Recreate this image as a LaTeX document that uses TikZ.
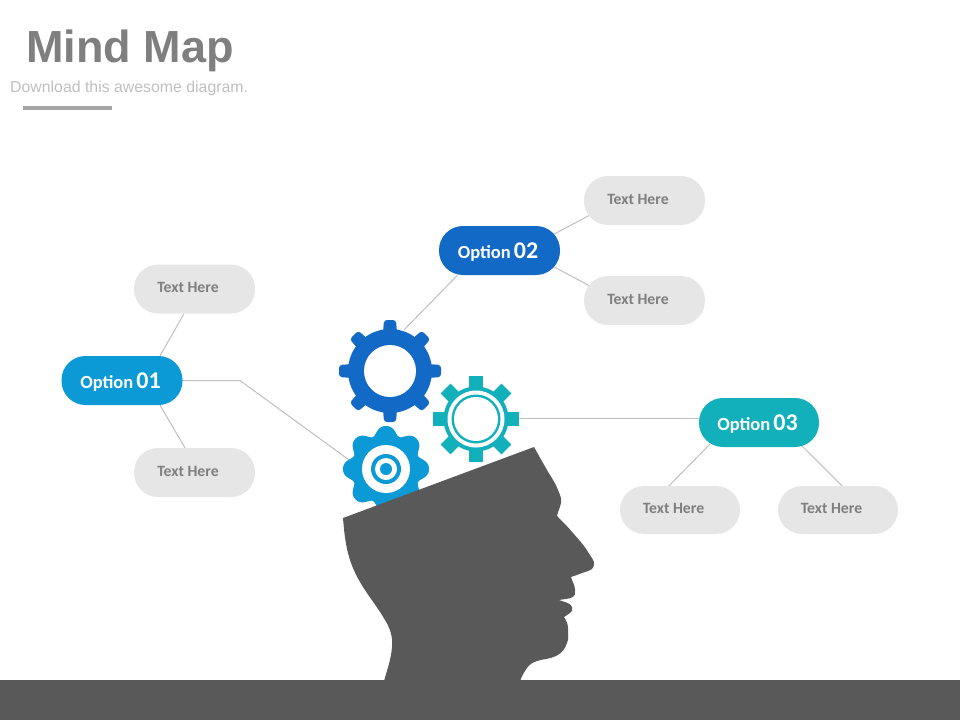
\documentclass[tikz,border=0pt]{standalone}
\usepackage{fontspec}
\setmainfont{Liberation Sans}
\newfontfamily\labelfont{Carlito}
\usetikzlibrary{backgrounds}
\definecolor{optone}{HTML}{0C9AD6}
\definecolor{opttwo}{HTML}{126AC6}
\definecolor{optthree}{HTML}{12B0BB}
\definecolor{pillgrey}{HTML}{E6E6E6}
\definecolor{txtgrey}{HTML}{7F7F7F}
\definecolor{headgrey}{HTML}{595959}
\definecolor{linegrey}{HTML}{BFBFBF}
\tikzset{
  pill/.style={rectangle,rounded corners=24pt,minimum width=121pt,minimum height=49pt,inner sep=0pt,
    font=\labelfont\bfseries},
  textpill/.style={pill,fill=pillgrey,text=txtgrey,font=\labelfont\bfseries\fontsize{15.7}{18}\selectfont},
  optionpill/.style={pill,text=white},
  conn/.style={draw=linegrey,line width=1pt},
  gearcore/.style={circle,inner sep=0pt,minimum size=#1,fill=none,draw=none}
}
\newcommand{\optlabel}[1]{\raisebox{-7.6pt}[0pt][0pt]{\fontsize{18.5}{22}\selectfont Option\,\fontsize{24}{26}\selectfont #1}\kern3pt}
\newcommand{\txtlabel}{\raisebox{-3.6pt}[0pt][0pt]{Text Here}\kern13pt}
\begin{document}
\begin{tikzpicture}[x=1pt,y=-1pt]
\useasboundingbox (0,0) rectangle (960,720);

% title
\node[anchor=base west,inner sep=0pt,text=txtgrey,font=\bfseries\fontsize{45}{50}\selectfont] (title) at (26,62) {Mind Map};
\node[anchor=base west,inner sep=0pt,text=linegrey,font=\fontsize{15.85}{19}\selectfont] (subtitle) at (10,92) {Download this awesome diagram.};
\fill[color=black!35] (23,106) rectangle (112,110);

% bottom band
\fill[headgrey] (0,680) rectangle (960,720);

% pills
\node[optionpill,fill=optone] (opta) at (122,380.5) {\optlabel{01}};
\node[optionpill,fill=opttwo] (optb) at (499.5,250.5) {\optlabel{02}};
\node[optionpill,fill=optthree,minimum width=120pt] (optc) at (759,422.5) {\optlabel{03}};
\node[textpill] (ta) at (194.5,289) {\txtlabel};
\node[textpill] (tb) at (194.5,472.5) {\txtlabel};
\node[textpill] (tc) at (644.5,200.5) {\txtlabel};
\node[textpill] (td) at (644.5,300.5) {\txtlabel};
\node[textpill,minimum width=120pt,minimum height=48pt] (te) at (680,510) {\txtlabel};
\node[textpill,minimum width=120pt,minimum height=48pt] (tf) at (838,510) {\txtlabel};

% gear anchors
\node[gearcore=102pt] (gearb) at (390,371) {};
\node[gearcore=86pt] (gearc) at (476,419) {};
\node[gearcore=86pt] (geara) at (386,469) {};
\coordinate (kink) at (240,380.5);

% connectors
\begin{pgfonlayer}{background}
\draw[conn] ([xshift=38pt]opta.north) -- ([xshift=-10.5pt]ta.south);
\draw[conn] ([xshift=38pt]opta.south) -- ([xshift=-9.5pt]tb.north);
\draw[conn] (opta.east) -- (kink) -- ([xshift=-30pt,yshift=4pt]geara.center);
\draw[conn] ([xshift=-42pt]optb.south) -- ([xshift=14pt,yshift=41pt]gearb.center);
\draw[conn] ([xshift=50pt,yshift=14pt]optb.center) -- ([xshift=-54.5pt,yshift=-14.5pt]tc.center);
\draw[conn] ([xshift=50pt,yshift=-14pt]optb.center) -- ([xshift=-54.5pt,yshift=14.5pt]td.center);
\draw[conn] (gearc.center) ++(40,-1) coordinate (gc) (gc) -- ([yshift=4.5pt]optc.west);
\draw[conn] ([xshift=-49pt,yshift=-21.5pt]optc.center) -- ([xshift=-11pt]te.north);
\draw[conn] ([xshift=41pt,yshift=-21.5pt]optc.center) -- ([xshift=4pt]tf.north);
\end{pgfonlayer}

% dark blue gear
\begin{scope}[shift={(gearb.center)}]
  \foreach \a in {0,45,...,315}
    \fill[opttwo,rotate=\a,rounded corners=3pt] (-7,-38) -- (-6,-51) -- (6,-51) -- (7,-38) -- cycle;
  \fill[opttwo] (0,0) circle (42);
  \fill[white] (0,0) circle (26);
\end{scope}

% teal gear
\begin{scope}[shift={(gearc.center)}]
  \foreach \a in {0,45,...,315}
    \fill[optthree,rotate=\a] (-7,-30) rectangle (7,-43);
  \fill[optthree] (0,0) circle (32.5);
  \fill[white] (0,0) circle (28.5);
  \fill[optthree] (0,0) circle (24.5);
  \fill[white] (0,0) circle (22);
\end{scope}

% light blue gear
\begin{scope}[shift={(geara.center)}]
  \fill[optone] plot[domain=0:360,samples=241] (\x:{39.4+4.2*cos(8*\x)-0.6*cos(16*\x)}) -- cycle;
  \fill[white] (0,0) circle (24);
  \fill[optone] (0,0) circle (15);
  \fill[white] (0,0) circle (11);
  \fill[optone] (0,0) circle (6);
\end{scope}

% head
\fill[headgrey] (343,518) -- (534,447)
  .. controls (539,456) and (543,463) .. (547,470)
  .. controls (551,477) and (556,484) .. (558,490)
  .. controls (560,495) and (562,499) .. (561,503)
  .. controls (560,508) and (558,511) .. (557,516)
  .. controls (563,522) and (568,527) .. (573,533)
  .. controls (578,539) and (584,545) .. (588,552)
  .. controls (591,557) and (595,561) .. (594,565)
  .. controls (593,569) and (591,570) .. (588,571)
  .. controls (582,573) and (577,575) .. (571,577)
  .. controls (572,581) and (575,585) .. (575,590)
  .. controls (575,594) and (575,596) .. (573,597)
  .. controls (569,599) and (564,599) .. (559,600)
  .. controls (564,602) and (571,603) .. (572,607)
  .. controls (573,610) and (572,612) .. (570,613)
  .. controls (568,615) and (566,615) .. (564,617)
  .. controls (566,620) and (568,624) .. (568,628)
  .. controls (568,634) and (569,639) .. (567,643)
  .. controls (565,649) and (562,653) .. (556,656)
  .. controls (550,659) and (543,659) .. (537,661)
  .. controls (532,662.5) and (529,665) .. (527,668)
  .. controls (524,672) and (522,676) .. (520,681)
  -- (384,681)
  .. controls (387,670) and (391,660) .. (392,647)
  .. controls (393,637) and (390,628) .. (385,620)
  .. controls (378,608) and (370,598) .. (363,587)
  .. controls (356,576) and (351,565) .. (348,553)
  .. controls (345,541) and (344,530) .. (343,518) -- cycle;
\end{tikzpicture}
\end{document}
